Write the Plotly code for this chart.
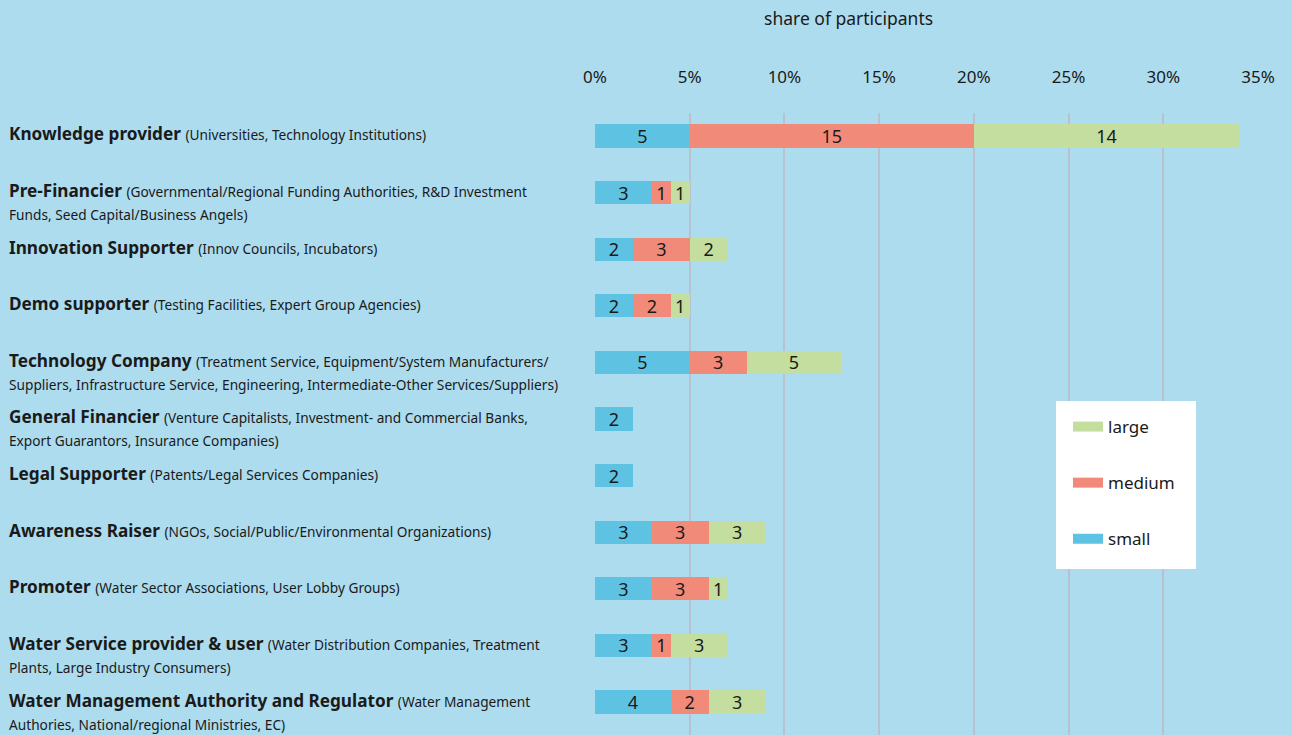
import plotly.graph_objects as go

categories = [
    "Knowledge provider", "Pre-Financier", "Innovation Supporter", "Demo supporter",
    "Technology Company", "General Financier", "Legal Supporter", "Awareness Raiser",
    "Promoter", "Water Service provider & user", "Water Management Authority and Regulator",
]
details_line1 = [
    "(Universities, Technology Institutions)",
    "(Governmental/Regional Funding Authorities, R&D Investment",
    "(Innov Councils, Incubators)",
    "(Testing Facilities, Expert Group Agencies)",
    "(Treatment Service, Equipment/System Manufacturers/",
    "(Venture Capitalists, Investment- and Commercial Banks,",
    "(Patents/Legal Services Companies)",
    "(NGOs, Social/Public/Environmental Organizations)",
    "(Water Sector Associations, User Lobby Groups)",
    "(Water Distribution Companies, Treatment",
    "(Water Management",
]
details_line2 = [
    "",
    "Funds, Seed Capital/Business Angels)",
    "",
    "",
    "Suppliers, Infrastructure Service, Engineering, Intermediate-Other Services/Suppliers)",
    "Export Guarantors, Insurance Companies)",
    "",
    "",
    "",
    "Plants, Large Industry Consumers)",
    "Authories, National/regional Ministries, EC)",
]
small = [5, 3, 2, 2, 5, 2, 2, 3, 3, 3, 4]
medium = [15, 1, 3, 2, 3, 0, 0, 3, 3, 1, 2]
large = [14, 1, 2, 1, 5, 0, 0, 3, 1, 3, 3]
series_names = ["small", "medium", "large"]
series_colors = ["#5EC3E2", "#F18A79", "#C4DEA0"]
tick_vals = [0, 5, 10, 15, 20, 25, 30, 35]
tick_text = ["0%", "5%", "10%", "15%", "20%", "25%", "30%", "35%"]

BG = "#ADDCEE"
FONT = "Noto Sans"
TXT = "#1a1a1a"

# layout geometry (pixels)
W, H = 1292, 735
ML, MR, MT, MB = 595, 34, 113, 0
PW, PH = W - ML - MR, H - MT - MB


def px_x(px):
    return (px - ML) / PW


def px_y(py):
    return (H - MB - py) / PH


fig = go.Figure()
for name, vals, col in zip(series_names, [small, medium, large], series_colors):
    fig.add_trace(go.Bar(
        y=categories, x=vals, orientation="h", name=name,
        marker=dict(color=col, line=dict(width=0)),
        text=[str(v) if v else "" for v in vals],
        textposition="inside", insidetextanchor="middle", textangle=0,
        constraintext="none",
        textfont=dict(family=FONT, size=18, color=TXT),
        showlegend=False, hoverinfo="x+name",
    ))
# legend entries (wide flat swatches), top to bottom: large, medium, small
for name, col in zip(series_names[::-1], series_colors[::-1]):
    fig.add_trace(go.Scatter(
        x=[None], y=[None], mode="lines", name=name,
        line=dict(color=col, width=10), legendgroup=name, showlegend=True,
    ))

annotations = []
LX = px_x(7)
for cat, d1, d2 in zip(categories, details_line1, details_line2):
    annotations.append(dict(
        xref="paper", yref="y", x=LX, y=cat, xanchor="left", yanchor="middle",
        yshift=2, showarrow=False, align="left",
        text=f"<b>{cat}</b> <span style='font-size:13.7px'>{d1}</span>",
        font=dict(family=FONT, size=17.2, color=TXT),
    ))
    if d2:
        annotations.append(dict(
            xref="paper", yref="y", x=LX, y=cat, xanchor="left", yanchor="middle",
            yshift=-22, showarrow=False, align="left",
            text=d2, font=dict(family=FONT, size=13.7, color=TXT),
        ))
annotations.append(dict(
    xref="paper", yref="paper", x=px_x(848), y=px_y(18), xanchor="center",
    yanchor="middle", showarrow=False, text="share of participants",
    font=dict(family=FONT, size=17.5, color=TXT),
))

shapes = [dict(
    type="rect", xref="paper", yref="paper", layer="above",
    x0=px_x(1056), x1=px_x(1196), y0=px_y(569), y1=px_y(401),
    fillcolor="white", line=dict(width=0),
)]

fig.update_layout(
    width=W, height=H,
    margin=dict(l=ML, r=MR, t=MT, b=MB),
    paper_bgcolor=BG, plot_bgcolor=BG,
    barmode="stack", bargap=0.59,
    uniformtext=dict(minsize=18, mode="show"),
    font=dict(family=FONT, size=16, color=TXT),
    xaxis=dict(
        side="top", range=[0, 35], tickvals=tick_vals, ticktext=tick_text,
        showgrid=True, gridcolor="#B8C1CE", gridwidth=2, zeroline=False,
        ticks="", ticklabelstandoff=26, showline=False,
        tickfont=dict(family=FONT, size=17, color=TXT),
    ),
    yaxis=dict(
        type="category", range=[10.583, -0.406], showticklabels=False,
        showgrid=False, zeroline=False,
    ),
    legend=dict(
        x=px_x(1068), y=px_y(409), xanchor="left", yanchor="top",
        bgcolor="rgba(0,0,0,0)", borderwidth=0, traceorder="grouped",
        tracegroupgap=31,
        font=dict(family=FONT, size=17, color=TXT),
    ),
    annotations=annotations,
    shapes=shapes,
    showlegend=True,
)

fig.write_html("out.html", config={"displayModeBar": False})
with open("out.html", "r", encoding="utf-8") as f:
    html = f.read()
html = html.replace("<body>", "<body style=\"margin:0;padding:0;\">", 1)
with open("out.html", "w", encoding="utf-8") as f:
    f.write(html)
